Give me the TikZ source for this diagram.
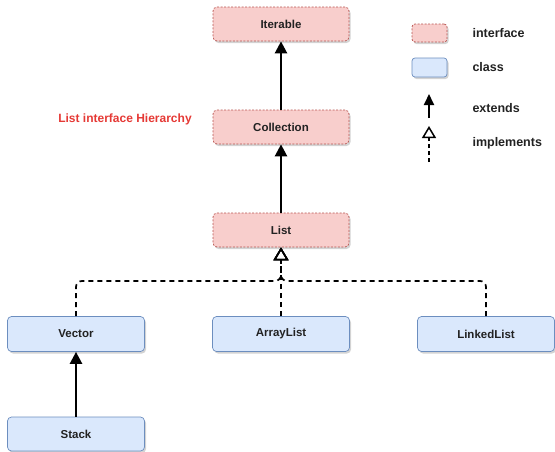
\documentclass[tikz,border=0pt]{standalone}
\usepackage{fontspec}
\setmainfont{Liberation Sans}
\usetikzlibrary{arrows.meta,shadows}
\definecolor{ifill}{HTML}{F8CECC}
\definecolor{iline}{HTML}{B85450}
\definecolor{cfill}{HTML}{DAE8FC}
\definecolor{cline}{HTML}{6C8EBF}
\definecolor{ttl}{HTML}{E53935}
\definecolor{txt}{HTML}{222222}
\tikzset{
  iface/.style={draw=iline, fill=ifill, dash pattern=on 2pt off 1.5pt, line width=0.7pt, rounded corners=4pt,
    minimum width=136pt, minimum height=34pt, text=txt, font=\fontsize{11.5}{13}\selectfont\bfseries,
    drop shadow={opacity=0.35, shadow xshift=1.5pt, shadow yshift=-2pt}},
  cls/.style={draw=cline, fill=cfill, line width=0.7pt, rounded corners=4pt,
    minimum width=137pt, minimum height=35pt, text=txt, font=\fontsize{11.5}{13}\selectfont\bfseries,
    drop shadow={opacity=0.35, shadow xshift=1.5pt, shadow yshift=-2pt}},
  ext/.style={line width=2.4pt, -{Triangle[length=12pt,width=12pt]}},
  impl/.style={line width=1.7pt, dash pattern=on 5pt off 4pt, rounded corners=6pt,
    -{Triangle[open,length=13pt,width=15pt,line width=1.6pt]}},
  leg/.style={anchor=west, text=txt, font=\fontsize{12.5}{14}\selectfont\bfseries},
}
\begin{document}
\begin{tikzpicture}[x=1pt,y=-1pt]
\useasboundingbox (0,0) rectangle (555,451);
\node[iface] (iter) at (281,24) {Iterable};
\node[iface] (coll) at (281,127) {Collection};
\node[iface] (list) at (281,230) {List};
\node[cls] (vec) at (76,334) {Vector};
\node[cls] (arr) at (281,334) {ArrayList};
\node[cls] (lnk) at (486,334) {LinkedList};
\node[cls, minimum height=34pt] (stk) at (76,434) {Stack};
\node[text=ttl, font=\fontsize{12}{14}\selectfont\bfseries] (title) at (125,119) {List interface Hierarchy};

\draw[ext] (coll.north) -- (iter.south);
\draw[ext] (list.north) -- (coll.south);
\draw[ext] (stk.north) -- (vec.south);

\coordinate (bar) at (281,281);
\draw[impl] (vec.north) |- (bar) -- (list.south);
\draw[impl] (lnk.north) |- (bar) -- (list.south);
\draw[impl] (arr.north) -- (list.south);

% legend
\node[iface, minimum width=35pt, minimum height=18pt, rounded corners=3pt] (li) at (429.5,33) {};
\node[cls, minimum width=35pt, minimum height=19pt, rounded corners=3pt] (lc) at (429.5,67.5) {};
\node[leg] (lit) at (469,33) {interface};
\node[leg] (lct) at (469,67) {class};
\coordinate (e1) at (429,118);
\coordinate (e2) at (429,94);
\draw[line width=1.8pt, -{Triangle[length=11pt,width=10pt]}] (e1) -- (e2);
\node[leg] (let) at (469,108) {extends};
\coordinate (i1) at (429,162);
\coordinate (i2) at (429,126);
\draw[line width=1.5pt, dash pattern=on 4pt off 3pt, -{Triangle[open,length=12pt,width=14pt,line width=1.5pt]}] (i1) -- (i2);
\node[leg] (lim) at (469,143) {implements};
\end{tikzpicture}
\end{document}
